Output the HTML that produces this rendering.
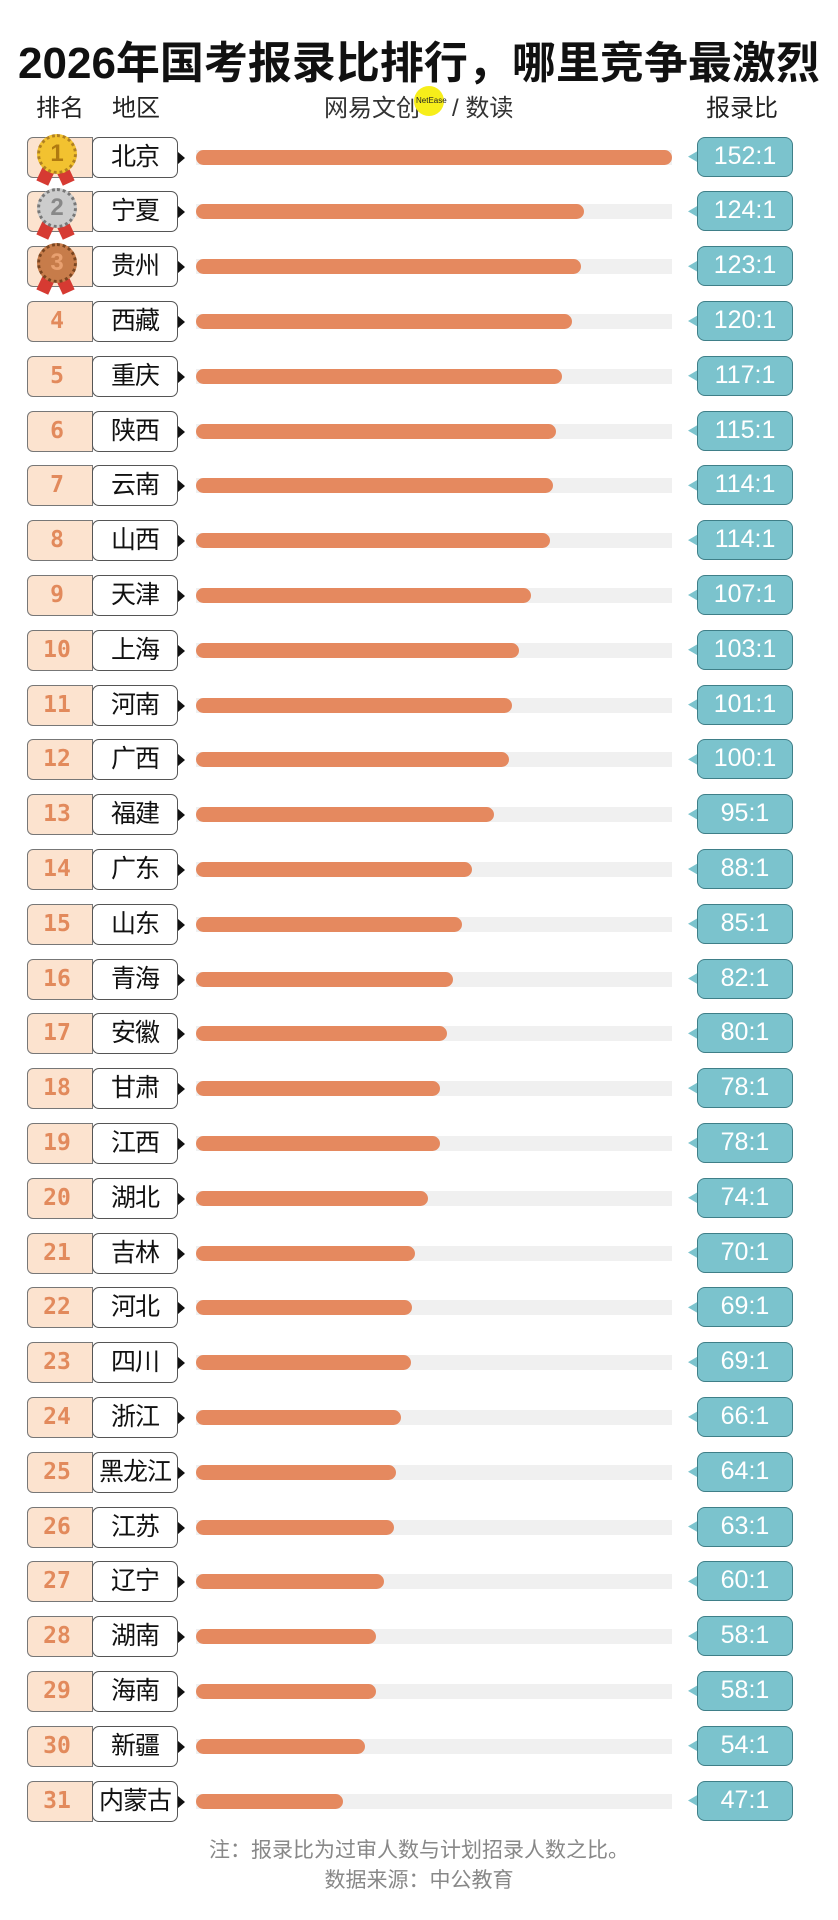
<!DOCTYPE html>
<html><head><meta charset="utf-8">
<style>
*{margin:0;padding:0;box-sizing:border-box}
body{width:838px;height:1920px;background:#fff;position:relative;overflow:hidden;font-family:"Liberation Sans","Noto Sans CJK SC",sans-serif}
.title{position:absolute;left:0;width:838px;top:27px;text-align:center;font-size:44px;font-weight:bold;color:#111;letter-spacing:0px;font-family:"Liberation Sans","Noto Sans CJK SC",sans-serif}
.hd{position:absolute;top:88px;font-size:24px;color:#222}
.rows{position:absolute;left:0;top:129.6px;width:838px}
.row{height:54.8px;position:relative}
.rk{position:absolute;left:27px;top:7px;height:41px;background:#fce3cf;border:1.5px solid #777;border-radius:6px 0 0 6px;color:#e28a5c;font-weight:bold;font-size:23px;line-height:38px;text-align:center;width:66px;font-family:"DejaVu Sans Mono","Liberation Mono",monospace;padding-right:6px}
.nm{position:absolute;left:92px;top:7px;width:86px;height:41px;background:#fff;border:1.5px solid #555;border-radius:7px;font-size:25px;line-height:38px;text-align:center;color:#111;letter-spacing:-1px}
.ar{position:absolute;left:178px;top:22px;width:0;height:0;border-top:6px solid transparent;border-bottom:6px solid transparent;border-left:7px solid #111}
.tr{position:absolute;left:196px;top:20px;width:476px;height:15px;background:#f0f0f0}
.bf{position:absolute;left:196px;top:20px;height:15px;background:#e5895f;border-radius:8px}
.vb{position:absolute;left:697px;top:7px;width:96px;height:40px;background:#7bc3cd;border:1.5px solid #3f7f88;border-radius:8px;color:#fff;font-size:25px;line-height:37px;text-align:center;font-family:"Liberation Sans Narrow","Liberation Sans",sans-serif}
.pt{position:absolute;left:688px;top:20px;width:12px;height:14px;background:#7bc3cd;clip-path:polygon(0 50%,100% 0,100% 100%)}
.md{position:absolute;left:37px;top:4px;width:40px;height:40px;border-radius:50%;border:3px dotted #b08020;background:#f2c230;color:#b07a10;font-weight:bold;font-size:24px;line-height:34px;text-align:center;z-index:2}
.rb{position:absolute;top:34px;width:13px;height:20px;background:#d63a32;z-index:1}
.foot{position:absolute;left:0;width:838px;text-align:center;color:#888;font-size:21px}
</style></head><body>
<div class="title">2026年国考报录比排行，哪里竞争最激烈</div>
<div class="hd" style="left:36px">排名</div>
<div class="hd" style="left:112px">地区</div>
<div class="hd" style="left:324px;color:#333">网易文创</div>
<div style="position:absolute;left:414px;top:86px;width:30px;height:30px;border-radius:50%;background:#f7ee1a"></div>
<div style="position:absolute;left:416px;top:96px;font-size:8px;color:#222">NetEase</div>
<div class="hd" style="left:452px;color:#333">/ 数读</div>
<div class="hd" style="left:706px">报录比</div>
<div class="rows">
<div class="row"><div class="rk"></div><div class="rb" style="left:40px;transform:rotate(25deg)"></div><div class="rb" style="left:58px;transform:rotate(-25deg)"></div><div class="md">1</div><div class="nm">北京</div><div class="ar"></div><div class="tr"></div><div class="bf" style="width:476px"></div><div class="pt"></div><div class="vb">152:1</div></div>
<div class="row"><div class="rk"></div><div class="rb" style="left:40px;transform:rotate(25deg)"></div><div class="rb" style="left:58px;transform:rotate(-25deg)"></div><div class="md" style="background:#ccc;border-color:#777;color:#888">2</div><div class="nm">宁夏</div><div class="ar"></div><div class="tr"></div><div class="bf" style="width:388px"></div><div class="pt"></div><div class="vb">124:1</div></div>
<div class="row"><div class="rk"></div><div class="rb" style="left:40px;transform:rotate(25deg)"></div><div class="rb" style="left:58px;transform:rotate(-25deg)"></div><div class="md" style="background:#c77c4a;border-color:#7a4520;color:#e8a070">3</div><div class="nm">贵州</div><div class="ar"></div><div class="tr"></div><div class="bf" style="width:385px"></div><div class="pt"></div><div class="vb">123:1</div></div>
<div class="row"><div class="rk">4</div><div class="nm">西藏</div><div class="ar"></div><div class="tr"></div><div class="bf" style="width:376px"></div><div class="pt"></div><div class="vb">120:1</div></div>
<div class="row"><div class="rk">5</div><div class="nm">重庆</div><div class="ar"></div><div class="tr"></div><div class="bf" style="width:366px"></div><div class="pt"></div><div class="vb">117:1</div></div>
<div class="row"><div class="rk">6</div><div class="nm">陕西</div><div class="ar"></div><div class="tr"></div><div class="bf" style="width:360px"></div><div class="pt"></div><div class="vb">115:1</div></div>
<div class="row"><div class="rk">7</div><div class="nm">云南</div><div class="ar"></div><div class="tr"></div><div class="bf" style="width:357px"></div><div class="pt"></div><div class="vb">114:1</div></div>
<div class="row"><div class="rk">8</div><div class="nm">山西</div><div class="ar"></div><div class="tr"></div><div class="bf" style="width:354px"></div><div class="pt"></div><div class="vb">114:1</div></div>
<div class="row"><div class="rk">9</div><div class="nm">天津</div><div class="ar"></div><div class="tr"></div><div class="bf" style="width:335px"></div><div class="pt"></div><div class="vb">107:1</div></div>
<div class="row"><div class="rk">10</div><div class="nm">上海</div><div class="ar"></div><div class="tr"></div><div class="bf" style="width:323px"></div><div class="pt"></div><div class="vb">103:1</div></div>
<div class="row"><div class="rk">11</div><div class="nm">河南</div><div class="ar"></div><div class="tr"></div><div class="bf" style="width:316px"></div><div class="pt"></div><div class="vb">101:1</div></div>
<div class="row"><div class="rk">12</div><div class="nm">广西</div><div class="ar"></div><div class="tr"></div><div class="bf" style="width:313px"></div><div class="pt"></div><div class="vb">100:1</div></div>
<div class="row"><div class="rk">13</div><div class="nm">福建</div><div class="ar"></div><div class="tr"></div><div class="bf" style="width:298px"></div><div class="pt"></div><div class="vb">95:1</div></div>
<div class="row"><div class="rk">14</div><div class="nm">广东</div><div class="ar"></div><div class="tr"></div><div class="bf" style="width:276px"></div><div class="pt"></div><div class="vb">88:1</div></div>
<div class="row"><div class="rk">15</div><div class="nm">山东</div><div class="ar"></div><div class="tr"></div><div class="bf" style="width:266px"></div><div class="pt"></div><div class="vb">85:1</div></div>
<div class="row"><div class="rk">16</div><div class="nm">青海</div><div class="ar"></div><div class="tr"></div><div class="bf" style="width:257px"></div><div class="pt"></div><div class="vb">82:1</div></div>
<div class="row"><div class="rk">17</div><div class="nm">安徽</div><div class="ar"></div><div class="tr"></div><div class="bf" style="width:251px"></div><div class="pt"></div><div class="vb">80:1</div></div>
<div class="row"><div class="rk">18</div><div class="nm">甘肃</div><div class="ar"></div><div class="tr"></div><div class="bf" style="width:244px"></div><div class="pt"></div><div class="vb">78:1</div></div>
<div class="row"><div class="rk">19</div><div class="nm">江西</div><div class="ar"></div><div class="tr"></div><div class="bf" style="width:244px"></div><div class="pt"></div><div class="vb">78:1</div></div>
<div class="row"><div class="rk">20</div><div class="nm">湖北</div><div class="ar"></div><div class="tr"></div><div class="bf" style="width:232px"></div><div class="pt"></div><div class="vb">74:1</div></div>
<div class="row"><div class="rk">21</div><div class="nm">吉林</div><div class="ar"></div><div class="tr"></div><div class="bf" style="width:219px"></div><div class="pt"></div><div class="vb">70:1</div></div>
<div class="row"><div class="rk">22</div><div class="nm">河北</div><div class="ar"></div><div class="tr"></div><div class="bf" style="width:216px"></div><div class="pt"></div><div class="vb">69:1</div></div>
<div class="row"><div class="rk">23</div><div class="nm">四川</div><div class="ar"></div><div class="tr"></div><div class="bf" style="width:215px"></div><div class="pt"></div><div class="vb">69:1</div></div>
<div class="row"><div class="rk">24</div><div class="nm">浙江</div><div class="ar"></div><div class="tr"></div><div class="bf" style="width:205px"></div><div class="pt"></div><div class="vb">66:1</div></div>
<div class="row"><div class="rk">25</div><div class="nm">黑龙江</div><div class="ar"></div><div class="tr"></div><div class="bf" style="width:200px"></div><div class="pt"></div><div class="vb">64:1</div></div>
<div class="row"><div class="rk">26</div><div class="nm">江苏</div><div class="ar"></div><div class="tr"></div><div class="bf" style="width:198px"></div><div class="pt"></div><div class="vb">63:1</div></div>
<div class="row"><div class="rk">27</div><div class="nm">辽宁</div><div class="ar"></div><div class="tr"></div><div class="bf" style="width:188px"></div><div class="pt"></div><div class="vb">60:1</div></div>
<div class="row"><div class="rk">28</div><div class="nm">湖南</div><div class="ar"></div><div class="tr"></div><div class="bf" style="width:180px"></div><div class="pt"></div><div class="vb">58:1</div></div>
<div class="row"><div class="rk">29</div><div class="nm">海南</div><div class="ar"></div><div class="tr"></div><div class="bf" style="width:180px"></div><div class="pt"></div><div class="vb">58:1</div></div>
<div class="row"><div class="rk">30</div><div class="nm">新疆</div><div class="ar"></div><div class="tr"></div><div class="bf" style="width:169px"></div><div class="pt"></div><div class="vb">54:1</div></div>
<div class="row"><div class="rk">31</div><div class="nm">内蒙古</div><div class="ar"></div><div class="tr"></div><div class="bf" style="width:147px"></div><div class="pt"></div><div class="vb">47:1</div></div>
</div>
<div class="foot" style="top:1834px">注：报录比为过审人数与计划招录人数之比。</div>
<div class="foot" style="top:1864px">数据来源：中公教育</div>
</body></html>
